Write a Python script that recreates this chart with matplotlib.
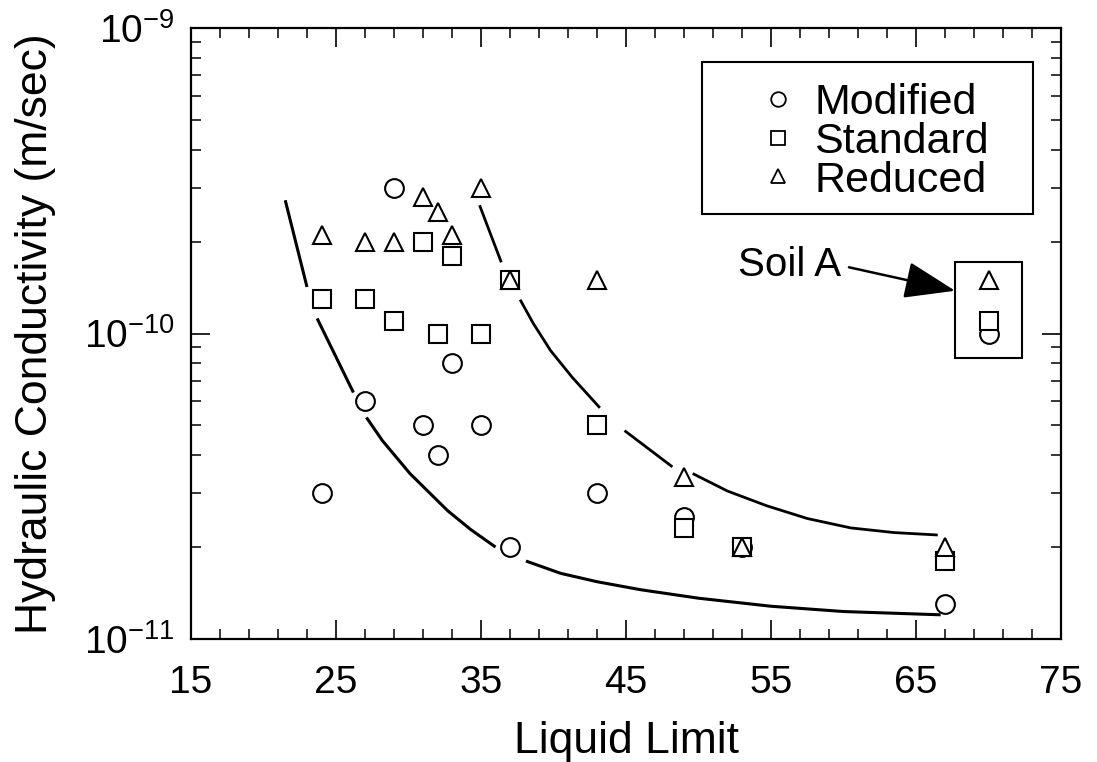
import numpy as np
import matplotlib
matplotlib.use('Agg')
import matplotlib.pyplot as plt
from matplotlib.patches import Rectangle
from matplotlib.ticker import MultipleLocator, LogLocator, NullFormatter

plt.rcParams['font.family'] = ['Liberation Sans', 'DejaVu Sans']
plt.rcParams['mathtext.fontset'] = 'custom'
plt.rcParams['mathtext.rm'] = 'Liberation Sans'
plt.rcParams['mathtext.it'] = 'Liberation Sans:italic'
plt.rcParams['mathtext.bf'] = 'Liberation Sans:bold'

nan = np.nan

# liquid limit of each soil and measured hydraulic conductivity (m/sec)
liquid_limit = [24, 27, 29, 31, 32, 33, 35, 37, 43, 49, 53, 67, 70]
modified = [3.0e-11, 6.0e-11, 3.0e-10, 5.0e-11, 4.0e-11, 8.0e-11, 5.0e-11,
            2.0e-11, 3.0e-11, 2.5e-11, 2.0e-11, 1.3e-11, 1.0e-10]
standard = [1.3e-10, 1.3e-10, 1.1e-10, 2.0e-10, 1.0e-10, 1.8e-10, 1.0e-10,
            1.5e-10, 5.0e-11, 2.3e-11, 2.0e-11, 1.8e-11, 1.1e-10]
reduced = [2.1e-10, 2.0e-10, 2.0e-10, 2.8e-10, 2.5e-10, 2.1e-10, 3.0e-10,
           1.5e-10, 1.5e-10, 3.4e-11, 2.0e-11, 2.0e-11, 1.5e-10]

# hand-drawn trend lines (broken where they pass the symbols)
lower_ll = [21.5, 23.0, nan, 23.7, 26.2, nan, 27.1, 28.2, 30.1, 32.7, 34.3, 36.0,
            nan, 38.1, 40.5, 43.0, 46.0, 50.0, 55.0, 60.0, 66.7]
lower_k = [2.73e-10, 1.42e-10, nan, 1.12e-10, 6.41e-11, nan, 5.31e-11, 4.46e-11,
           3.48e-11, 2.63e-11, 2.28e-11, 2.00e-11, nan, 1.80e-11, 1.64e-11,
           1.54e-11, 1.45e-11, 1.36e-11, 1.28e-11, 1.23e-11, 1.20e-11]
upper_ll = [34.9, 36.4, nan, 37.7, 38.6, 39.8, 41.3, 43.2, nan, 44.9, 48.2, nan,
            49.6, 52.0, 54.7, 57.5, 60.5, 63.5, 66.5]
upper_k = [2.63e-10, 1.71e-10, nan, 1.29e-10, 1.08e-10, 8.79e-11, 7.18e-11,
           5.71e-11, nan, 4.81e-11, 3.66e-11, nan, 3.48e-11, 3.05e-11, 2.73e-11,
           2.48e-11, 2.31e-11, 2.23e-11, 2.19e-11]

W, H = 1097, 762
fig = plt.figure(figsize=(W / 100, H / 100), dpi=100)
ax = fig.add_axes([191 / W, 1 - 639 / H, 870 / W, 611 / H])

ax.plot(lower_ll, lower_k, color='k', lw=2.2, solid_capstyle='butt',
        solid_joinstyle='round', zorder=2)
ax.plot(upper_ll, upper_k, color='k', lw=2.0, solid_capstyle='butt',
        solid_joinstyle='round', zorder=2)

mk = dict(linestyle='none', mfc='white', mec='black', mew=1.5, zorder=3)
ax.plot(liquid_limit, modified, marker='o', ms=13.5, **mk)
ax.plot(liquid_limit, standard, marker='s', ms=13, **mk)
ax.plot(liquid_limit, reduced, marker='^', ms=12.5, **mk)

ax.set_yscale('log')
ax.set_xlim(15, 75)
ax.set_ylim(1e-11, 1e-9)
ax.set_xticks([15, 25, 35, 45, 55, 65, 75])
ax.xaxis.set_minor_locator(MultipleLocator(2, offset=1))
ax.set_yticks([1e-11, 1e-10, 1e-9])
ax.yaxis.set_minor_locator(LogLocator(base=10, subs=np.arange(2, 10)))
ax.yaxis.set_minor_formatter(NullFormatter())

ax.tick_params(which='both', direction='in', top=True, right=True,
               labelsize=28, color='k')
ax.tick_params(which='major', length=14, width=1.2)
ax.tick_params(which='minor', length=7, width=1.1)
ax.tick_params(axis='x', pad=19)
ax.tick_params(axis='y', pad=12)
for s in ax.spines.values():
    s.set_linewidth(1.6)

ax.set_xlabel('Liquid Limit', fontsize=32, labelpad=14)
ax.set_ylabel('Hydraulic Conductivity (m/sec)', fontsize=32, labelpad=20)

# legend box drawn by hand in axes fraction
def fx(px):
    return (px - 191) / 870

def fy(py):
    return (639 - py) / 611

ax.add_patch(Rectangle((fx(702), fy(214)), fx(1033) - fx(702), fy(62) - fy(214),
                       transform=ax.transAxes, fill=False, ec='k', lw=1.5, zorder=4))
symbols = [('o', 10.5, 99), ('s', 10, 138), ('^', 10, 176)]
for m, size, py in symbols:
    ax.plot([fx(778)], [fy(py)], marker=m, ms=size, mfc='white', mec='k', mew=1.3,
            transform=ax.transAxes, zorder=5, clip_on=False)
ax.text(fx(814), fy(142), 'Modified\nStandard\nReduced', transform=ax.transAxes,
        fontsize=31, ha='left', va='center', linespacing=0.96, zorder=5)

# Soil A callout
ax.add_patch(Rectangle((67.7, 8.34e-11), 4.6, 1.72e-10 - 8.34e-11, fill=False,
                       ec='k', lw=1.5, zorder=4))
ax.annotate('Soil A', xy=(67.7, 1.38e-10), xytext=(52.7, 1.67e-10),
            fontsize=29, ha='left', va='center',
            arrowprops=dict(arrowstyle='-|>,head_length=1.1,head_width=0.4',
                            color='k', lw=1.8, shrinkA=4, shrinkB=0,
                            relpos=(1.0, 0.5)))

fig.savefig('out.png', dpi=100)
